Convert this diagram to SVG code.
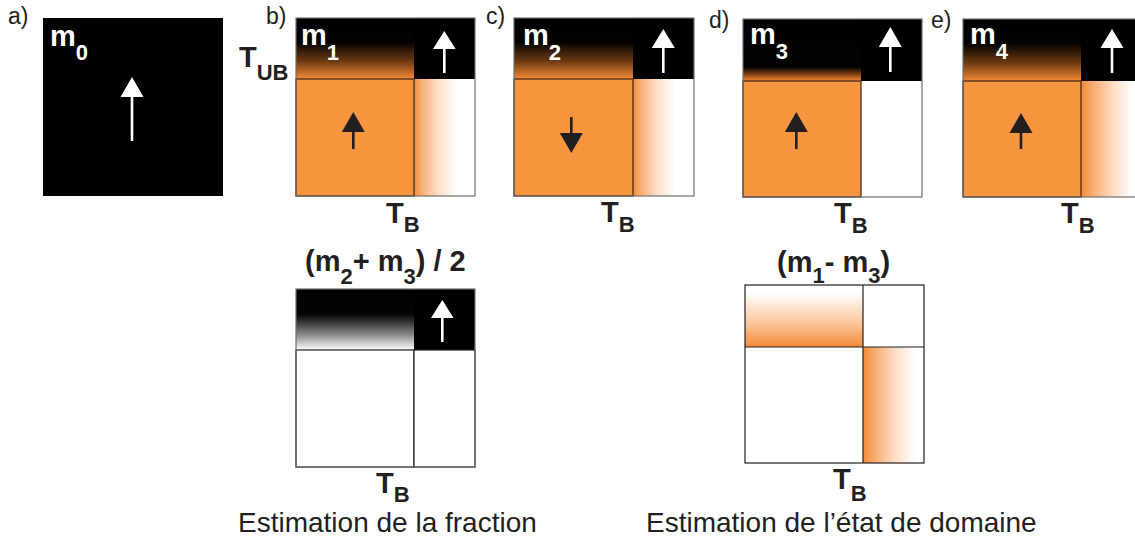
<svg xmlns="http://www.w3.org/2000/svg" width="1135" height="538" viewBox="0 0 1135 538">
<defs>
<style>
text{font-family:"Liberation Sans",Arial,sans-serif;}
.lbl{font-size:23px;fill:#231f20;}
.m{font-size:29px;font-weight:bold;fill:#fff;}
.sub{font-size:22px;font-weight:bold;}
.t{font-size:29px;font-weight:bold;fill:#231f20;}
.cap{font-size:28px;fill:#231f20;}
.box{fill:none;stroke:#6d6e71;stroke-width:1.2;}
.obox{fill:#f7963f;stroke:#3b2414;stroke-width:1.2;}
.wbox{fill:#fff;stroke:#231f20;stroke-width:1.2;}
.frame{fill:none;stroke:#231f20;stroke-width:1.2;}
.wa{fill:#fff;}
.ba{fill:#231f20;}
</style>
<linearGradient id="gTop" x1="0" y1="0" x2="0" y2="1">
<stop offset="0" stop-color="#000"/>
<stop offset="0.4" stop-color="#050302"/>
<stop offset="0.7" stop-color="#6b3711"/>
<stop offset="1" stop-color="#f58a35"/>
</linearGradient>
<linearGradient id="gTopD" x1="0" y1="0" x2="0" y2="1">
<stop offset="0" stop-color="#000"/>
<stop offset="0.78" stop-color="#050302"/>
<stop offset="0.9" stop-color="#8a4616"/>
<stop offset="1" stop-color="#f58a35"/>
</linearGradient>
<linearGradient id="gTopW" x1="0" y1="0" x2="0" y2="1">
<stop offset="0" stop-color="#000"/>
<stop offset="0.42" stop-color="#050505"/>
<stop offset="0.75" stop-color="#8a8a8a"/>
<stop offset="1" stop-color="#fff"/>
</linearGradient>
<linearGradient id="gTopO" x1="0" y1="0" x2="0" y2="1">
<stop offset="0" stop-color="#fff"/>
<stop offset="0.12" stop-color="#fff"/>
<stop offset="0.6" stop-color="#fbc9a0"/>
<stop offset="1" stop-color="#f58a35"/>
</linearGradient>
<linearGradient id="gSide" x1="0" y1="0" x2="1" y2="0">
<stop offset="0" stop-color="#f58a35"/>
<stop offset="0.12" stop-color="#f8ad72"/>
<stop offset="0.4" stop-color="#fde1cb"/>
<stop offset="0.7" stop-color="#fff"/>
<stop offset="1" stop-color="#fff"/>
</linearGradient>
<linearGradient id="gSideB" x1="0" y1="0" x2="1" y2="0">
<stop offset="0" stop-color="#f58a35"/>
<stop offset="0.2" stop-color="#f8ad72"/>
<stop offset="0.55" stop-color="#fde1cb"/>
<stop offset="0.85" stop-color="#fff"/>
<stop offset="1" stop-color="#fff"/>
</linearGradient>
</defs>

<g id="panel-a">
<text class="lbl" x="8" y="24">a)</text>
<rect x="43" y="18" width="180" height="178" fill="#000"/>
<text class="m" x="50" y="46">m<tspan class="sub" dy="14">0</tspan></text>
<rect class="wa" x="130.7" y="95" width="2.6" height="46"/>
<polygon class="wa" points="132,77 120.5,97 143.5,97"/>
</g>

<g id="panel-b">
<text class="lbl" x="266" y="24">b)</text>
<text class="t" x="239" y="67">T<tspan class="sub" dy="13" font-size="20">UB</tspan></text>
<rect x="296" y="18" width="118" height="61" fill="url(#gTop)"/>
<rect x="414" y="18" width="61" height="61" fill="#000"/>
<rect x="414" y="79" width="61" height="117" fill="url(#gSide)"/>
<rect class="obox" x="296" y="79" width="118" height="117"/>
<rect class="box" x="296" y="18" width="179" height="178"/>
<text class="m" x="301" y="45">m<tspan class="sub" dy="15">1</tspan></text>
<rect class="wa" x="443" y="46" width="2.6" height="27"/>
<polygon class="wa" points="444.3,31 433,49 455.6,49"/>
<rect class="ba" x="352" y="130" width="2.6" height="19"/>
<polygon class="ba" points="353.3,112 341.8,132 364.8,132"/>
<text class="t" x="386" y="223">T<tspan class="sub" dy="9">B</tspan></text>
</g>

<g id="panel-c">
<text class="lbl" x="486" y="24">c)</text>
<rect x="514" y="18" width="119" height="61" fill="url(#gTop)"/>
<rect x="633" y="18" width="61" height="61" fill="#000"/>
<rect x="633" y="79" width="61" height="117" fill="url(#gSide)"/>
<rect class="obox" x="514" y="79" width="119" height="117"/>
<rect class="box" x="514" y="18" width="180" height="178"/>
<text class="m" x="523" y="45">m<tspan class="sub" dy="15">2</tspan></text>
<rect class="wa" x="662" y="46" width="2.6" height="27"/>
<polygon class="wa" points="663.3,29 651.8,48 674.8,48"/>
<rect class="ba" x="570" y="117" width="2.6" height="18"/>
<polygon class="ba" points="571.3,153 559.8,133 582.8,133"/>
<text class="t" x="601" y="222">T<tspan class="sub" dy="10">B</tspan></text>
</g>

<g id="panel-d">
<text class="lbl" x="709" y="28">d)</text>
<rect x="743" y="19" width="118" height="62" fill="url(#gTopD)"/>
<rect x="861" y="19" width="61" height="62" fill="#000"/>
<rect x="861" y="81" width="61" height="116" fill="#fff"/>
<rect class="obox" x="743" y="81" width="118" height="116"/>
<rect class="box" x="743" y="19" width="179" height="178"/>
<text class="m" x="750" y="44">m<tspan class="sub" dy="15">3</tspan></text>
<rect class="wa" x="889" y="45" width="2.6" height="27"/>
<polygon class="wa" points="890.3,27 878.8,47 901.8,47"/>
<rect class="ba" x="795" y="130" width="2.6" height="19"/>
<polygon class="ba" points="796.3,112 784.8,132 807.8,132"/>
<text class="t" x="834" y="223">T<tspan class="sub" dy="10">B</tspan></text>
</g>

<g id="panel-e">
<text class="lbl" x="931" y="28">e)</text>
<rect x="963" y="19" width="118" height="62" fill="url(#gTop)"/>
<rect x="1081" y="19" width="61" height="62" fill="#000"/>
<rect x="1081" y="81" width="61" height="116" fill="url(#gSideB)"/>
<rect class="obox" x="963" y="81" width="118" height="116"/>
<rect class="box" x="963" y="19" width="179" height="178"/>
<text class="m" x="970" y="44">m<tspan class="sub" dy="15">4</tspan></text>
<rect class="wa" x="1110.7" y="46" width="2.6" height="27"/>
<polygon class="wa" points="1112,29 1100.5,48 1123.5,48"/>
<rect class="ba" x="1019.7" y="131" width="2.6" height="18"/>
<polygon class="ba" points="1021,113 1009.5,133 1032.5,133"/>
<text class="t" x="1061" y="223">T<tspan class="sub" dy="10">B</tspan></text>
</g>

<g id="panel-sum">
<text class="t" x="305" y="271">(m<tspan class="sub" dy="13">2</tspan><tspan dy="-13">+ m</tspan><tspan class="sub" dy="13">3</tspan><tspan dy="-13">) / 2</tspan></text>
<rect x="296" y="289" width="118" height="61" fill="url(#gTopW)"/>
<rect x="414" y="289" width="61" height="61" fill="#000"/>
<rect class="wbox" x="296" y="350" width="118" height="117"/>
<rect class="wbox" x="414" y="350" width="61" height="117"/>
<rect class="box" x="296" y="289" width="179" height="178"/>
<rect class="wa" x="441" y="316" width="2.6" height="26"/>
<polygon class="wa" points="442.3,300 431,318 453.6,318"/>
<text class="t" x="376" y="493">T<tspan class="sub" dy="9">B</tspan></text>
<text class="cap" x="238" y="532">Estimation de la fraction</text>
</g>

<g id="panel-diff">
<text class="t" x="777" y="272">(m<tspan class="sub" dy="11">1</tspan><tspan dy="-11">- m</tspan><tspan class="sub" dy="11">3</tspan><tspan dy="-11">)</tspan></text>
<rect x="745" y="285" width="118" height="62" fill="url(#gTopO)"/>
<rect x="863" y="347" width="61" height="116" fill="url(#gSideB)"/>
<line x1="745" y1="347" x2="924" y2="347" stroke="#231f20" stroke-width="1.2"/>
<line x1="863" y1="285" x2="863" y2="463" stroke="#231f20" stroke-width="1.2"/>
<rect class="frame" x="745" y="285" width="179" height="178"/>
<text class="t" x="833" y="489">T<tspan class="sub" dy="12">B</tspan></text>
<text class="cap" x="646" y="532">Estimation de l’état de domaine</text>
</g>
</svg>
